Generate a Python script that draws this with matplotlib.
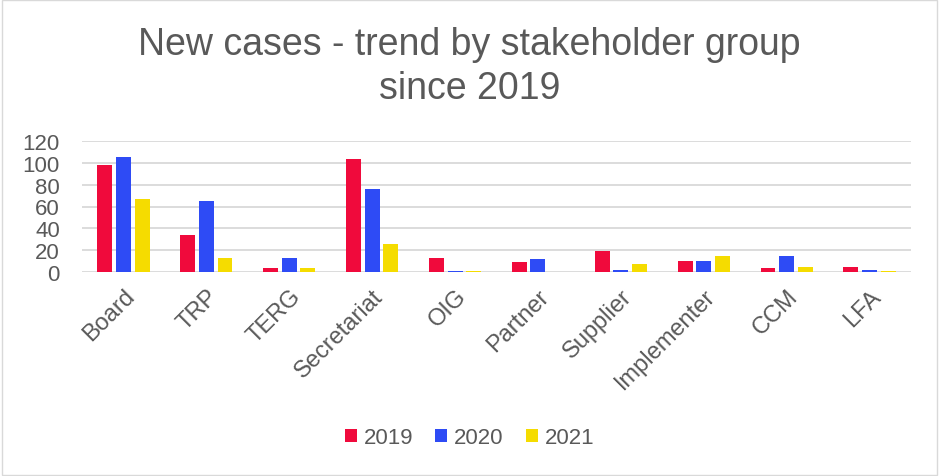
import numpy as np
import matplotlib
matplotlib.use("Agg")
from matplotlib import pyplot as plt
from matplotlib import font_manager
from matplotlib.patches import Rectangle

# stakeholder groups and yearly case counts
groups = ["Board", "TRP", "TERG", "Secretariat", "OIG", "Partner",
          "Supplier", "Implementer", "CCM", "LFA"]
cases_2019 = [98, 34, 4, 103, 13, 9, 19, 10, 4, 5]
cases_2020 = [105, 65, 13, 76, 1, 12, 2, 10, 15, 2]
cases_2021 = [67, 13, 4, 26, 1, 0, 8, 15, 5, 1]
years = ["2019", "2020", "2021"]
colors = ["#F00A3C", "#2E4BF5", "#F5DC00"]

plt.rcParams['font.family'] = ['Liberation Sans', 'DejaVu Sans']
txt = "#595959"

# title looks condensed in the original
names = set(f.name for f in font_manager.fontManager.ttflist)
if "Liberation Sans Narrow" in names:
    title_font = ["Liberation Sans Narrow"]
    title_size = 32
else:
    title_font = ["Liberation Sans"]
    title_size = 27

fig = plt.figure(figsize=(9.39, 4.77), dpi=100)
ax = fig.add_axes([82 / 939, 1 - 273.3 / 477, (911 - 82) / 939, (273.3 - 141.7) / 477])

x = np.arange(len(groups))
pitch = 0.225
w = 0.18
for i, (vals, yr) in enumerate(zip([cases_2019, cases_2020, cases_2021], years)):
    ax.bar(x + (i - 1) * pitch, vals, w, color=colors[i], label=yr, zorder=3)

ax.set_xlim(-0.5, len(groups) - 0.5)
ax.set_ylim(0, 120)
ax.set_yticks(range(0, 121, 20))
ax.yaxis.grid(True, color="#d9d9d9", linewidth=1.3, zorder=0)
for s in ax.spines.values():
    s.set_visible(False)
ax.tick_params(length=0)
ax.tick_params(axis="y", labelsize=16, labelcolor=txt, pad=16)
ax.set_xticks(x)
ax.set_xticklabels(groups, rotation=45, ha="right", rotation_mode="anchor",
                   fontsize=17, color=txt)
ax.tick_params(axis="x", pad=9)

fig.text(0.5, 1 - 45 / 477, "New cases - trend by stakeholder group", ha="center",
         va="center", fontsize=title_size, color=txt, family=title_font)
fig.text(0.5, 1 - 89 / 477, "since 2019", ha="center", va="center",
         fontsize=title_size, color=txt, family=title_font)

fig.legend(loc="center", bbox_to_anchor=(0.5, 1 - 439 / 477), ncol=3, frameon=False,
           fontsize=16, handlelength=0.55, handleheight=0.55, handletextpad=0.3,
           columnspacing=1.0, labelcolor=txt)

fig.patches.append(Rectangle((0.002, 0.002), 0.996, 0.996, transform=fig.transFigure,
                             fill=False, edgecolor="#d9d9d9", linewidth=1))

fig.savefig("out.png", dpi=100)
